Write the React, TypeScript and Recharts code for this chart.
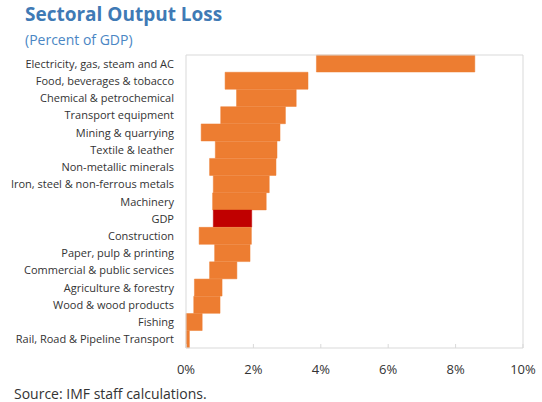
import React from 'react';
import { BarChart, Bar, XAxis, YAxis, Cell } from 'recharts';

// sectors top to bottom, loss range (low/high) in percent of GDP
const sectors = [
  'Electricity, gas, steam and AC',
  'Food, beverages & tobacco',
  'Chemical & petrochemical',
  'Transport equipment',
  'Mining & quarrying',
  'Textile & leather',
  'Non-metallic minerals',
  'Iron, steel & non-ferrous metals',
  'Machinery',
  'GDP',
  'Construction',
  'Paper, pulp & printing',
  'Commercial & public services',
  'Agriculture & forestry',
  'Wood & wood products',
  'Fishing',
  'Rail, Road & Pipeline Transport',
];
const lossLow = [3.87, 1.16, 1.5, 1.03, 0.45, 0.87, 0.7, 0.81, 0.79, 0.81, 0.39, 0.85, 0.7, 0.25, 0.23, 0, 0];
const lossHigh = [8.57, 3.62, 3.27, 2.95, 2.79, 2.7, 2.67, 2.47, 2.38, 1.95, 1.94, 1.9, 1.51, 1.07, 1.01, 0.48, 0.1];
const xTicks = [0, 2, 4, 6, 8, 10];
const rowEdges = [1, 2, 3, 4, 5, 6, 7, 8, 9, 10, 11, 12, 13, 14, 15, 16];

const data = sectors.map((sector, i) => ({ sector, range: [lossLow[i], lossHigh[i]] }));

const FONT = '"Open Sans", "Noto Sans", sans-serif';
const AXIS = '#D9D9D9';

// plain one-line label, no wrapping
const SectorTick = ({ x, y, payload }: any) => (
  <text x={x} y={y} dy={4} textAnchor="end" fill="#333" fontSize={11} fontFamily={FONT}>
    {payload.value}
  </text>
);

export default function App() {
  return (
    <div style={{ position: 'absolute', left: 0, top: 0, width: 542, height: 402, background: '#fff', fontFamily: FONT }}>
      <div style={{ position: 'absolute', left: 25, top: 3, fontSize: 19, lineHeight: '23px', fontWeight: 700, color: '#3F7AB5' }}>
        Sectoral Output Loss
      </div>
      <div style={{ position: 'absolute', left: 25, top: 31, fontSize: 14, lineHeight: '18px', color: '#4A86C4' }}>
        (Percent of GDP)
      </div>
      <BarChart
        width={542}
        height={402}
        data={data}
        layout="vertical"
        barCategoryGap={0}
        margin={{ top: 55, right: 19, bottom: 24, left: 0 }}
      >
        <XAxis
          type="number"
          domain={[0, 10]}
          ticks={xTicks}
          tickFormatter={(v) => `${v}%`}
          height={30}
          stroke={AXIS}
          tickSize={-4}
          tickMargin={21}
          tick={{ fill: '#333', fontSize: 13, fontFamily: FONT }}
        />
        <XAxis xAxisId="top" orientation="top" mirror type="number" domain={[0, 10]} height={1} tick={false} tickLine={false} stroke={AXIS} />
        <YAxis
          type="category"
          dataKey="sector"
          width={186}
          axisLine={{ stroke: AXIS }}
          tickLine={false}
          tickSize={0}
          tickMargin={12}
          interval={0}
          tick={<SectorTick />}
        />
        <YAxis yAxisId="grid" type="number" mirror domain={[0, 17]} ticks={rowEdges} width={1} tick={false} axisLine={false} tickSize={4} tickLine={{ stroke: AXIS }} />
        <YAxis yAxisId="right" orientation="right" mirror type="number" domain={[0, 17]} width={1} tick={false} tickLine={false} stroke={AXIS} />
        <Bar dataKey="range" isAnimationActive={false}>
          {data.map((d, i) => {
            const c = d.sector === 'GDP' ? '#C00000' : '#ED7D31';
            return <Cell key={`c-${i}`} fill={c} stroke={c} strokeWidth={0.5} />;
          })}
        </Bar>
      </BarChart>
      <div style={{ position: 'absolute', left: 14, top: 385, fontSize: 14, lineHeight: '18px', color: '#333' }}>
        Source: IMF staff calculations.
      </div>
    </div>
  );
}
